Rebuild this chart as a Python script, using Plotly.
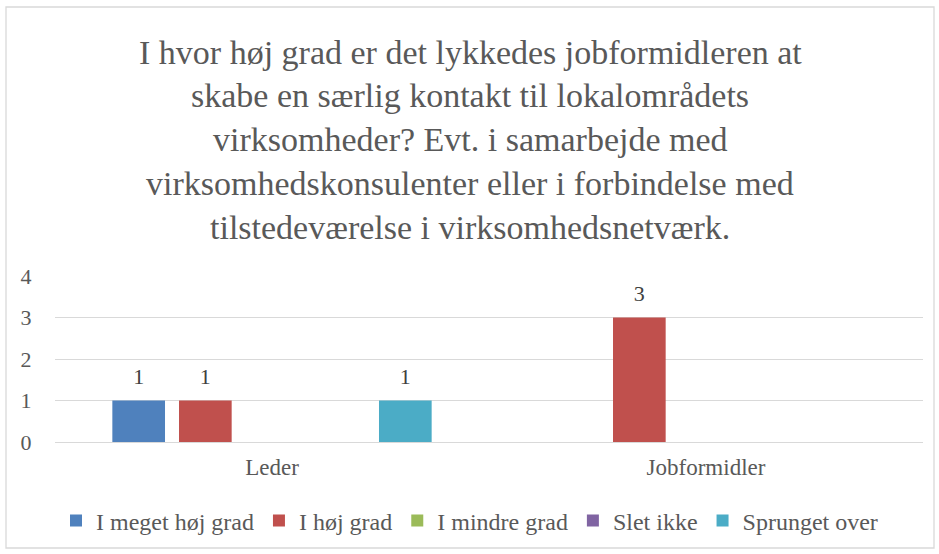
import plotly.graph_objects as go

categories = ["Leder", "Jobformidler"]
series_names = ["I meget høj grad", "I høj grad", "I mindre grad", "Slet ikke", "Sprunget over"]
values_meget_hoj = [1, 0]
values_hoj = [1, 3]
values_mindre = [0, 0]
values_slet_ikke = [0, 0]
values_sprunget = [1, 0]
colors = ["#4F81BD", "#C0504D", "#9BBB59", "#8064A2", "#4BACC6"]
y_ticks = [0, 1, 2, 3, 4]

title_lines = [
    "I hvor høj grad er det lykkedes jobformidleren at",
    "skabe en særlig kontakt til lokalområdets",
    "virksomheder? Evt. i samarbejde med",
    "virksomhedskonsulenter eller i forbindelse med",
    "tilstedeværelse i virksomhedsnetværk.",
]

all_values = [values_meget_hoj, values_hoj, values_mindre, values_slet_ikke, values_sprunget]
FONT = "Liberation Serif"
GRAY = "#595959"
BARGAP, GROUPGAP = 0.232, 0.21

fig = go.Figure()
for i, (name, vals, col) in enumerate(zip(series_names, all_values, colors)):
    fig.add_trace(go.Bar(
        x=categories, y=vals, name=name, marker=dict(color=col, line=dict(width=0)),
        offsetgroup=str(i), hoverinfo="skip",
    ))
for i, (name, vals) in enumerate(zip(series_names, all_values)):
    fig.add_trace(go.Scatter(
        x=categories, y=vals, mode="markers+text", showlegend=False, offsetgroup=str(i),
        marker=dict(size=16, color="rgba(0,0,0,0)"), hoverinfo="skip",
        text=[str(v) if v else "" for v in vals], textposition="top center",
        textfont=dict(family=FONT, size=22, color="#404040"), cliponaxis=False,
    ))

W, H = 939, 554
L, R, T, B = 55, 16, 276, 112
pw, ph = W - L - R, H - T - B

fig.update_layout(
    width=W, height=H,
    margin=dict(l=L, r=R, t=T, b=B, autoexpand=False),
    paper_bgcolor="white", plot_bgcolor="white",
    barmode="group", bargap=BARGAP, bargroupgap=GROUPGAP,
    scattermode="group", scattergap=BARGAP,
    font=dict(family=FONT, color=GRAY, size=22),
    showlegend=True,
    legend=dict(orientation="h", x=0.5, xanchor="center", xref="container",
                y=1 - 521 / H, yanchor="middle", yref="container",
                font=dict(family=FONT, size=24, color=GRAY), itemwidth=30, traceorder="normal",
                tracegroupgap=0),
    xaxis=dict(showgrid=False, showline=False, ticks="", automargin=False, ticklabelstandoff=9,
               tickfont=dict(family=FONT, size=23, color=GRAY)),
    yaxis=dict(range=[0, 4], tickvals=y_ticks, showgrid=True, gridcolor="#D9D9D9", gridwidth=1.3,
               zeroline=True, zerolinecolor="#D9D9D9", zerolinewidth=1.3, showline=False,
               ticks="outside", ticklen=18, tickcolor="rgba(0,0,0,0)",
               automargin=False,
               tickfont=dict(family=FONT, size=22, color=GRAY)),
    shapes=[dict(type="rect", xref="paper", yref="paper",
                 x0=(6 - L) / pw, x1=(934 - L) / pw, y0=(442 - 548) / ph, y1=(442 - 7) / ph,
                 line=dict(color="#D9D9D9", width=1.3), fillcolor="rgba(0,0,0,0)", layer="below")],
)

line_y = [52, 95, 139, 183, 227]
for txt, yy in zip(title_lines, line_y):
    fig.add_annotation(text=txt, xref="paper", yref="paper", x=(470 - L) / pw, xanchor="center",
                       y=(442 - yy) / ph, yanchor="middle", showarrow=False,
                       font=dict(family=FONT, size=34, color=GRAY))

fig.write_html("out.html", config={"displayModeBar": False},
               post_script="document.body.style.margin='0';")
